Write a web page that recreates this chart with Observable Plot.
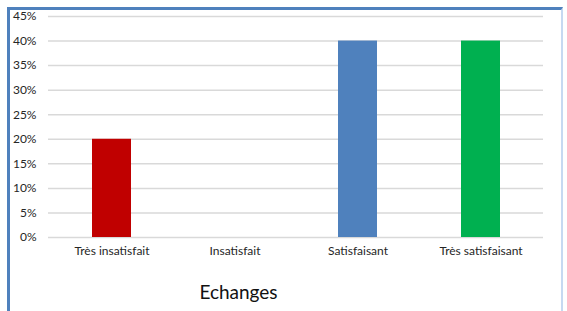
<!DOCTYPE html>
<html><head><meta charset="utf-8">
<script src="https://cdn.jsdelivr.net/npm/d3@7"></script>
<script src="https://cdn.jsdelivr.net/npm/@observablehq/plot@0.6"></script>
<style>
body{margin:0;background:#fff;}
#wrap{position:relative;width:567px;height:311px;overflow:hidden;font-family:Lato,"Open Sans",sans-serif;}
#frame{position:absolute;left:7px;top:7px;width:556px;height:320px;border-top:3px solid #4f81bd;border-left:3px solid #4f81bd;border-right:2px solid #c6d9f1;box-sizing:border-box;}
#chart{position:absolute;left:0;top:0;}
#title{position:absolute;left:0;top:280px;width:477px;text-align:center;font-size:19px;color:#111;}
</style></head>
<body><div id="wrap"><div id="frame"></div><div id="chart"></div><div id="title">Echanges</div></div>
<script>
const categories = ["Très insatisfait", "Insatisfait", "Satisfaisant", "Très satisfaisant"];
const values = [0.20, 0, 0.40, 0.40];
const colors = ["#c00000", "#7f7f7f", "#4f81bd", "#00b050"];
const yTicks = [0, 0.05, 0.10, 0.15, 0.20, 0.25, 0.30, 0.35, 0.40, 0.45];
const data = categories.map((c, i) => ({cat: c, v: values[i], col: colors[i]}));
const pct = d => Math.round(d * 100) + "%";
const chart = Plot.plot({
  width: 567, height: 260,
  marginLeft: 48, marginRight: 24, marginTop: 16, marginBottom: 23,
  style: {fontFamily: "Lato, 'Open Sans', sans-serif", fontSize: "12px", color: "#262626", background: "transparent"},
  x: {domain: categories, paddingInner: 0.685, paddingOuter: 0.3425, label: null},
  y: {domain: [0, 0.45], label: null},
  marks: [
    Plot.ruleY(yTicks, {stroke: "#d9d9d9", strokeWidth: 1.5}),
    Plot.barY(data, {x: "cat", y: "v", fill: "col"}),
    Plot.axisX({tickSize: 0, tickPadding: 9, label: null, fontSize: 12}),
    Plot.axisY({ticks: yTicks, tickFormat: pct, tickSize: 0, tickPadding: 12, label: null, fontSize: 12})
  ]
});
document.getElementById("chart").appendChild(chart);
</script></body></html>
